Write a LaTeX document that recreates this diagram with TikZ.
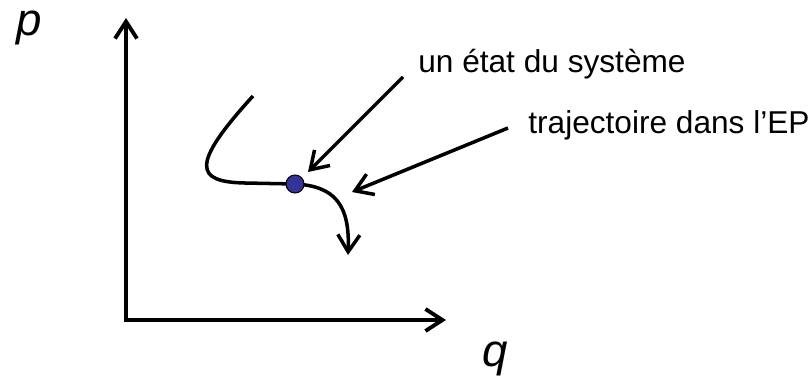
\documentclass[tikz,border=0pt]{standalone}
\usepackage{fontspec}
\setmainfont{Liberation Sans}
\usetikzlibrary{arrows.meta,positioning}
\definecolor{pointcolor}{HTML}{333399}
\tikzset{
  axe/.style={{Straight Barb[length=3.4mm,width=4.4mm]}-{Straight Barb[length=3.4mm,width=4.4mm]},line width=2.2pt,line join=miter,draw=black},
  traj/.style={line width=2pt,draw=black},
  fleche/.style={-{Straight Barb[length=3.4mm,width=4.4mm]},line width=2pt,draw=black},
  etiquette/.style={font=\fontsize{18}{22}\selectfont,inner sep=0pt,anchor=base west},
  nomaxe/.style={font=\fontsize{26}{30}\selectfont\itshape,inner sep=0pt,text height=0.5cm,text depth=0.2cm,anchor=base},
  etatpoint/.style={circle,draw=black,line width=0.6pt,fill=pointcolor,minimum size=0.36cm,inner sep=0pt}
}
\begin{document}
\begin{tikzpicture}[x=0.02cm,y=-0.02cm]
  \useasboundingbox (0,0) rectangle (811,379);
  % axes
  \coordinate (haut) at (126,18);
  \coordinate (origine) at (126,320);
  \coordinate (droite) at (446,320);
  \draw[axe] (haut) -- (origine) -- (droite);
  \node[nomaxe] (p) at (29,35) {p};
  \node[nomaxe] (q) at (495,366) {q};
  % trajectoire
  \coordinate (debut) at (253,96);
  \coordinate (etat) at (295,184);
  \coordinate (fin) at (348,255);
  \draw[traj] (debut) .. controls (190,165) and (195,182) .. (245,183) -- (etat);
  \draw[traj,-{Straight Barb[length=3.4mm,width=4.4mm]}] (etat) .. controls (335,186) and (350,205) .. (fin);
  \node[etatpoint] (point) at (etat) {};
  % etiquettes
  \node[etiquette] (txtetat) at (418,72) {un état du système};
  \node[etiquette] (txttraj) at (528,133) {trajectoire dans l’EP};
  \draw[fleche] ([shift={(-15,5)}]txtetat.base west) -- ([shift={(13,-12)}]point.center);
  \draw[fleche] ([shift={(-20,-5)}]txttraj.base west) -- ([shift={(57,8)}]point.center);
\end{tikzpicture}
\end{document}
